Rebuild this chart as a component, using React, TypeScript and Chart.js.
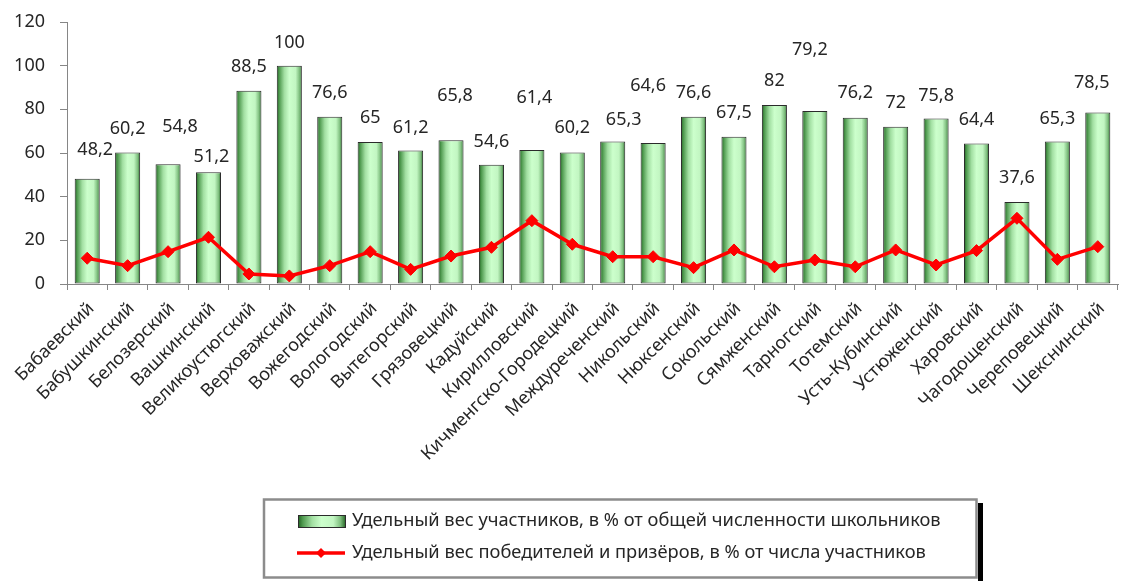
import React, { useEffect, useRef } from "react";
import { Chart, registerables } from "chart.js";

Chart.register(...registerables);

const categories = [
  "Бабаевский", "Бабушкинский", "Белозерский", "Вашкинский", "Великоустюгский",
  "Верховажский", "Вожегодский", "Вологодский", "Вытегорский", "Грязовецкий",
  "Кадуйский", "Кирилловский", "Кичменгско-Городецкий", "Междуреченский", "Никольский",
  "Нюксенский", "Сокольский", "Сямженский", "Тарногский", "Тотемский",
  "Усть-Кубинский", "Устюженский", "Харовский", "Чагодощенский", "Череповецкий", "Шекснинский",
];

const participants = [
  48.2, 60.2, 54.8, 51.2, 88.5, 100, 76.6, 65, 61.2, 65.8, 54.6, 61.4, 60.2,
  65.3, 64.6, 76.6, 67.5, 82, 79.2, 76.2, 72, 75.8, 64.4, 37.6, 65.3, 78.5,
];

const winners = [
  11.8, 8.4, 14.8, 21.4, 4.6, 3.7, 8.4, 14.8, 6.7, 12.8, 16.8, 29.0, 18.2,
  12.5, 12.5, 7.5, 15.6, 7.9, 11.0, 7.9, 15.6, 8.7, 15.3, 30.1, 11.3, 17.1,
];

const seriesNames = [
  "Удельный вес участников, в % от общей численности школьников",
  "Удельный вес победителей и призёров, в % от числа участников",
];

const yTicks = [0, 20, 40, 60, 80, 100, 120];

// label placement (Excel-style manual label offsets), in px
const labelLift = [29, 24, 37, 15, 24, 23, 24, 24, 23, 44, 23, 52, 25, 22, 57, 24, 24, 24, 61, 25, 24, 23, 24, 24, 23, 30];
const labelShift = [8, 0, 12, 3, 0, 0, 0, 0, 0, 4, 0, 2.5, 0, 11, -5, 0, 0, 0, -5, 0, 0, 0, 0, 0, 0, -6];

const FONT = "'Noto Sans', 'Open Sans', sans-serif";
const TEXT = "#262626";
const BAR_PCT = 0.62;

function barGradient(ctx: CanvasRenderingContext2D, x0: number, x1: number) {
  const g = ctx.createLinearGradient(x0, 0, x1, 0);
  g.addColorStop(0, "#1f5f1f");
  g.addColorStop(0.1, "#4f9a4f");
  g.addColorStop(0.3, "#a2dfa2");
  g.addColorStop(0.5, "#ccffcc");
  g.addColorStop(0.75, "#c2f6c2");
  g.addColorStop(0.9, "#80c080");
  g.addColorStop(1, "#2f6f2f");
  return g;
}

const dataLabelsPlugin = {
  id: "dataLabels",
  afterDatasetsDraw(chart: any) {
    const meta = chart.getDatasetMeta(0);
    const ctx = chart.ctx as CanvasRenderingContext2D;
    ctx.save();
    ctx.font = `18px ${FONT}`;
    ctx.fillStyle = TEXT;
    ctx.textAlign = "center";
    ctx.textBaseline = "middle";
    meta.data.forEach((el: any, i: number) => {
      const txt = String(participants[i]).replace(".", ",");
      ctx.fillText(txt, el.x + (labelShift[i] || 0), el.y - (labelLift[i] || 24));
    });
    ctx.restore();
  },
};

const legendPlugin = {
  id: "customLegend",
  afterDraw(chart: any) {
    const ctx = chart.ctx as CanvasRenderingContext2D;
    ctx.save();
    // shadow
    ctx.fillStyle = "#000000";
    ctx.fillRect(978, 503, 5, 78);
    // box
    ctx.fillStyle = "#ffffff";
    ctx.fillRect(264, 499.5, 712.5, 78);
    ctx.strokeStyle = "#8c8c8c";
    ctx.lineWidth = 2.5;
    ctx.strokeRect(264, 499.5, 712.5, 78);

    // swatch 1
    const g = barGradient(ctx, 298, 345);
    ctx.fillStyle = g;
    ctx.fillRect(298, 515, 47, 12);
    ctx.strokeStyle = "#2b2b2b";
    ctx.lineWidth = 1;
    ctx.strokeRect(298.5, 515.5, 47, 12);

    // swatch 2
    ctx.strokeStyle = "#ff0000";
    ctx.lineWidth = 3.5;
    ctx.beginPath();
    ctx.moveTo(297, 553);
    ctx.lineTo(345, 553);
    ctx.stroke();
    ctx.fillStyle = "#ff0000";
    ctx.beginPath();
    ctx.moveTo(321, 548);
    ctx.lineTo(326, 553);
    ctx.lineTo(321, 558);
    ctx.lineTo(316, 553);
    ctx.closePath();
    ctx.fill();

    // text, fitted to the reference widths
    const targets = [589, 574];
    const ys = [521, 553];
    ctx.fillStyle = TEXT;
    ctx.textAlign = "left";
    ctx.textBaseline = "middle";
    seriesNames.forEach((name, i) => {
      ctx.font = `20px ${FONT}`;
      const w = ctx.measureText(name).width;
      const size = Math.min(20, (20 * targets[i]) / w);
      ctx.font = `${size.toFixed(2)}px ${FONT}`;
      ctx.fillText(name, 352, ys[i]);
    });
    ctx.restore();
  },
};

export default function App() {
  const canvasRef = useRef<HTMLCanvasElement | null>(null);

  useEffect(() => {
    const canvas = canvasRef.current;
    if (!canvas) return;
    const chart = new Chart(canvas, {
      type: "bar",
      data: {
        labels: categories,
        datasets: [
          {
            type: "bar",
            label: seriesNames[0],
            data: participants,
            order: 1,
            barPercentage: BAR_PCT,
            categoryPercentage: 1,
            borderColor: "#2b2b2b",
            borderWidth: 1,
            borderSkipped: false,
            backgroundColor: (c: any) => {
              const ch = c.chart;
              const xs = ch.scales && ch.scales.x;
              if (!xs || c.type !== "data" || !ch.chartArea) return "#a6e2a6";
              const cx = xs.getPixelForValue(c.dataIndex);
              const w = (xs.width / categories.length) * BAR_PCT;
              return barGradient(ch.ctx, cx - w / 2, cx + w / 2);
            },
          } as any,
          {
            type: "line",
            label: seriesNames[1],
            data: winners,
            order: 0,
            borderColor: "#ff0000",
            borderWidth: 3.5,
            pointStyle: "rectRot",
            pointRadius: 6,
            pointHoverRadius: 6,
            pointBackgroundColor: "#ff0000",
            pointBorderColor: "#ff0000",
            pointBorderWidth: 1,
            tension: 0,
            fill: false,
          } as any,
        ],
      },
      options: {
        animation: false,
        responsive: false,
        maintainAspectRatio: false,
        layout: { padding: { top: 22, right: 0, bottom: 0, left: 0 } },
        plugins: {
          legend: { display: false },
          tooltip: { enabled: false },
        },
        scales: {
          x: {
            offset: true,
            grid: {
              display: true,
              offset: true,
              drawOnChartArea: false,
              drawTicks: true,
              tickLength: 6,
              color: "#868686",
            },
            border: { display: true, color: "#868686", width: 1 },
            ticks: {
              autoSkip: false,
              maxRotation: 45,
              minRotation: 45,
              padding: 8,
              labelOffset: 4,
              color: TEXT,
              font: { family: FONT, size: 18 },
            },
            afterFit(scale: any) {
              scale.height = 581 - 284;
              scale.paddingLeft = 0;
              scale.paddingRight = 0;
            },
          },
          y: {
            min: 0,
            max: 120,
            afterBuildTicks(scale: any) {
              scale.ticks = yTicks.map((v) => ({ value: v }));
            },
            grid: {
              display: true,
              drawOnChartArea: false,
              drawTicks: true,
              tickLength: 7,
              color: "#868686",
            },
            border: { display: true, color: "#868686", width: 1 },
            ticks: {
              padding: 15,
              color: TEXT,
              font: { family: FONT, size: 18 },
            },
            afterFit(scale: any) {
              scale.width = 67;
              scale.paddingTop = 0;
              scale.paddingBottom = 0;
            },
          },
        },
      },
      plugins: [dataLabelsPlugin, legendPlugin],
    });
    return () => chart.destroy();
  }, []);

  return (
    <div style={{ position: "absolute", left: 0, top: 0, width: 1125, height: 581, background: "#fff" }}>
      <canvas ref={canvasRef} width={1125} height={581} style={{ display: "block", width: 1125, height: 581 }} />
    </div>
  );
}
